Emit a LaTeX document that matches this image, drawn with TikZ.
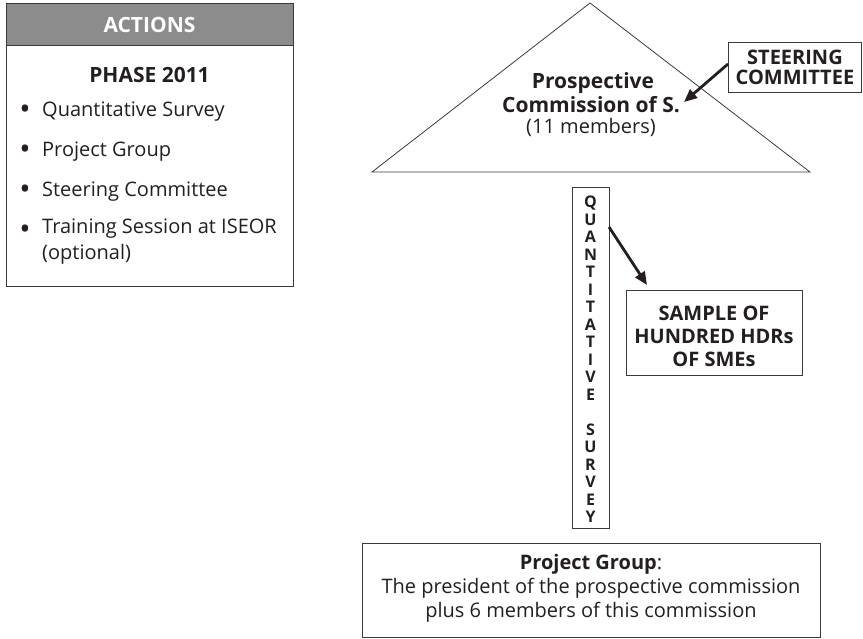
\documentclass[tikz,border=0pt]{standalone}
\usepackage{fontspec}
\setmainfont{Open Sans}
\usetikzlibrary{arrows.meta}
\definecolor{ink}{HTML}{231F20}
\definecolor{hdr}{HTML}{8C8C8C}
\definecolor{edge}{HTML}{3A3A3A}
\begin{document}
\begin{tikzpicture}[x=1pt,y=-1pt,
  boxed/.style={draw=edge,line width=0.9pt,inner sep=0pt},
  txt/.style={text=ink,inner sep=0pt,align=center},
  bigb/.style={font=\fontsize{21}{24}\selectfont\bfseries},
  norm/.style={font=\fontsize{20}{23}\selectfont},
  arr/.style={draw=ink,line width=2.8pt,-{Triangle[length=13pt,width=11pt]}},
  dot/.style={txt,font=\fontsize{30}{30}\selectfont},
  bul/.style={txt,anchor=west,font=\fontsize{20}{26}\selectfont,align=left}]
\useasboundingbox (0,0) rectangle (863,638);
% left box
\node[boxed,fill=hdr,minimum width=287pt,minimum height=42pt,anchor=north west] (hdr) at (6,3) {};
\node[txt,text=white,font=\fontsize{21}{24}\selectfont\bfseries] (acttitle) at (149.5,25) {ACTIONS};
\node[boxed,minimum width=287pt,minimum height=283pt,anchor=north west] (actions) at (6,3) {};
\node[txt,bigb] (phase) at (149.5,75) {PHASE 2011};
\node[dot] (b1) at (25,112) {•};
\node[bul] (t1) at (42,112) {Quantitative Survey};
\node[dot] (b2) at (25,152) {•};
\node[bul] (t2) at (42,152) {Project Group};
\node[dot] (b3) at (25,192) {•};
\node[bul] (t3) at (42,192) {Steering Committee};
\node[dot] (b4) at (25,232) {•};
\node[bul,anchor=north west] (t4) at (42,219) {Training Session at ISEOR\\(optional)};
% triangle
\coordinate (apex) at (590,3);
\coordinate (bl) at (372,172);
\coordinate (br) at (810,172);
\draw[edge,line width=0.8pt] (apex) -- (bl) -- (br) -- cycle;
\node[txt,bigb] (pc1) at (593,83) {Prospective};
\node[txt,bigb] (pc2) at (591,105) {Commission of S.};
\node[txt,norm] (pc3) at (591,127) {(11 members)};
% steering committee
\node[boxed,minimum width=133pt,minimum height=50pt,anchor=north west] (steer) at (728,42) {};
\node[txt,font=\fontsize{20}{23}\selectfont\bfseries] (steert) at (steer.center) {STEERING\\[-3pt]COMMITTEE};
\coordinate (steerTip) at (684,102);
\draw[arr] (728,64) -- (steerTip);
% vertical survey box
\node[boxed,minimum width=37pt,minimum height=341pt,anchor=north west] (survey) at (572,187) {};
\node[txt,font=\fontsize{16}{17.5}\selectfont\bfseries] (surveyt) at (590.5,359.5)
 {Q\\U\\A\\N\\T\\I\\T\\A\\T\\I\\V\\E\\\mbox{}\\S\\U\\R\\V\\E\\Y};
% sample box
\node[boxed,minimum width=176pt,minimum height=85pt,anchor=north west] (sample) at (626,290) {};
\node[txt,font=\fontsize{20}{23}\selectfont\bfseries] (samplet) at (714,336) {SAMPLE OF\\HUNDRED HDRs\\OF SMEs};
\coordinate (surveyOut) at (609,227);
\coordinate (sampleTip) at (647,285);
\draw[arr] (surveyOut) -- (sampleTip);
% project group
\node[boxed,minimum width=458pt,minimum height=94pt,anchor=north west] (pg) at (362,543) {};
\node[txt,font=\fontsize{20}{24}\selectfont] (pgt) at (591,588)
 {\textbf{Project Group}:\\The president of the prospective commission\\plus 6 members of this commission};
\end{tikzpicture}
\end{document}
